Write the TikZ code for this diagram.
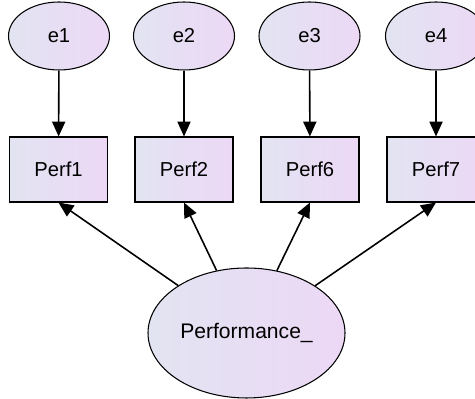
\documentclass[tikz,border=0pt]{standalone}
\usepackage{fontspec}
\setmainfont{Liberation Sans}
\usetikzlibrary{positioning,shapes.geometric,arrows.meta}

\definecolor{lavleft}{RGB}{226,228,242}
\definecolor{lavright}{RGB}{236,216,245}

\tikzset{
    latent/.style={ellipse, draw, line width=0.6pt, left color=lavleft, right color=lavright,
        inner sep=0pt, font=\fontsize{11.5}{13}\selectfont},
    observed/.style={rectangle, draw, line width=0.6pt, left color=lavleft, right color=lavright,
        minimum width=1.96cm, minimum height=1.3cm, inner sep=0pt, font=\fontsize{11.5}{13}\selectfont},
    path/.style={line width=0.9pt, -{Triangle[length=8.5pt,width=7.5pt]}}
}

\begin{document}
\begin{tikzpicture}
            \useasboundingbox (0,0) rectangle (9.5,7.98);

            % Error terms
            \node[latent, minimum width=2.02cm, minimum height=1.36cm] (e1) at (1.18,7.26) {e1};
            \node[latent, minimum width=2.02cm, minimum height=1.36cm] (e2) at (3.68,7.26) {e2};
            \node[latent, minimum width=2.02cm, minimum height=1.36cm] (e3) at (6.19,7.26) {e3};
            \node[latent, minimum width=2.02cm, minimum height=1.36cm] (e4) at (8.72,7.26) {e4};

            % Indicators
            \node[observed] (perf1) at (1.17,4.59) {Perf1};
            \node[observed] (perf2) at (3.68,4.59) {Perf2};
            \node[observed] (perf6) at (6.2,4.59) {Perf6};
            \node[observed] (perf7) at (8.72,4.59) {Perf7};

            % Latent factor
            \node[latent, minimum width=3.94cm, minimum height=2.6cm, font=\fontsize{12}{14}\selectfont] (perf) at (4.93,1.32) {Performance\_};

            % Error paths
            \draw[path] (e1) -- (perf1);
            \draw[path] (e2) -- (perf2);
            \draw[path] (e3) -- (perf6);
            \draw[path] (e4) -- (perf7);

            % Loadings, ending at the bottom of each box
            \draw[path] (perf) -- (perf1.south);
            \draw[path] (perf) -- (perf2.south);
            \draw[path] (perf) -- (perf6.south);
            \draw[path] (perf) -- (perf7.south);

        \end{tikzpicture}
\end{document}
